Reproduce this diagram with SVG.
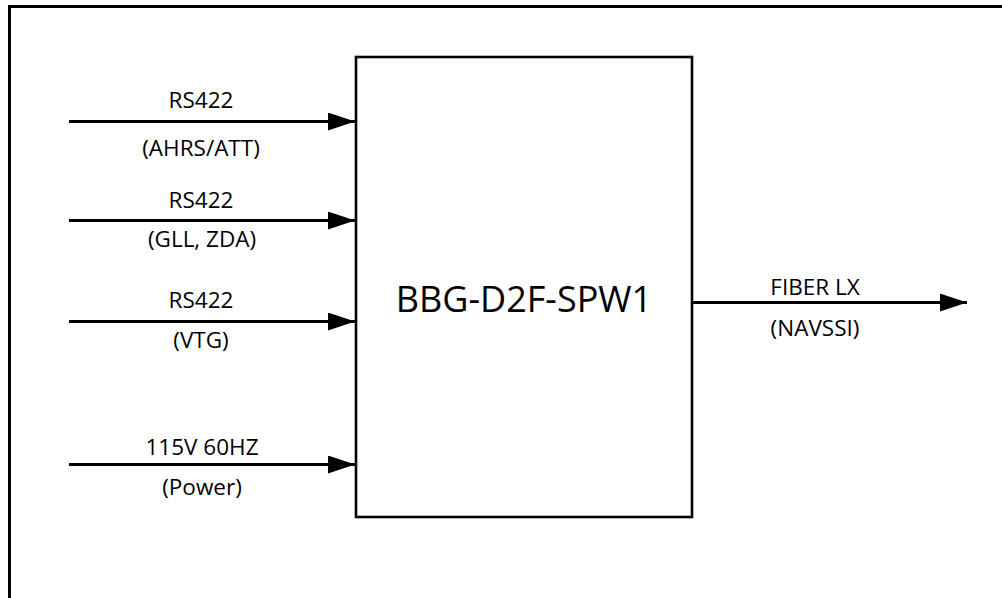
<svg xmlns="http://www.w3.org/2000/svg" width="1002" height="598" viewBox="0 0 1002 598">
<style>
.lbl{font-family:"Open Sans","Liberation Sans",sans-serif;font-size:22.5px;fill:#000;text-anchor:middle}
.big{font-family:"Open Sans","Liberation Sans",sans-serif;font-size:36px;fill:#000;text-anchor:middle}
.wire{stroke:#000;stroke-width:3;fill:none}
</style>
<defs>
<marker id="ah" markerUnits="userSpaceOnUse" markerWidth="28" markerHeight="20" refX="27" refY="9" orient="auto" viewBox="0 0 28 20">
<path d="M0,0 L27,9 L0,18 Z" fill="#000"/>
</marker>
</defs>
<rect width="1002" height="598" fill="#fff"/>
<path d="M9.5,598 V6.5 H1002" stroke="#000" stroke-width="3" fill="none"/>
<g id="main">
<rect x="356" y="57" width="336" height="460" fill="#fff" stroke="#000" stroke-width="2.6"/>
<text class="big" x="524" y="312">BBG-D2F-SPW1</text>
</g>
<g id="connectors">
<line class="wire" x1="69" y1="121.5" x2="355" y2="121.5" marker-end="url(#ah)"/>
<line class="wire" x1="69" y1="220.5" x2="355" y2="220.5" marker-end="url(#ah)"/>
<line class="wire" x1="69" y1="321.5" x2="355" y2="321.5" marker-end="url(#ah)"/>
<line class="wire" x1="69" y1="464.5" x2="355" y2="464.5" marker-end="url(#ah)"/>
<line class="wire" x1="692" y1="302.5" x2="967" y2="302.5" marker-end="url(#ah)"/>
</g>
<g id="labels">
<text class="lbl" x="201" y="108">RS422</text>
<text class="lbl" x="201" y="156">(AHRS/ATT)</text>
<text class="lbl" x="201" y="208">RS422</text>
<text class="lbl" x="202" y="247">(GLL, ZDA)</text>
<text class="lbl" x="201" y="308">RS422</text>
<text class="lbl" x="201" y="348">(VTG)</text>
<text class="lbl" x="202" y="455">115V 60HZ</text>
<text class="lbl" x="202" y="495">(Power)</text>
<text class="lbl" x="815" y="295">FIBER LX</text>
<text class="lbl" x="815" y="336">(NAVSSI)</text>
</g>
</svg>
